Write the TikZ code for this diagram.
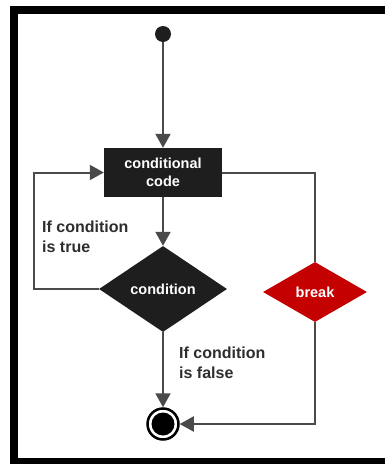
\documentclass[tikz,border=0pt]{standalone}
\usepackage{fontspec}
\setmainfont{Liberation Sans}
\usetikzlibrary{shapes.geometric,arrows.meta}
\definecolor{boxfill}{HTML}{1E1E1E}
\definecolor{wire}{HTML}{4A4A4A}
\definecolor{labeltext}{HTML}{2E2E2E}
\definecolor{breakred}{HTML}{C40000}
\begin{document}
\begin{tikzpicture}[x=1pt,y=-1pt,
  boxtext/.style={text=white,font=\fontsize{14.5}{18.5}\selectfont\bfseries,align=center},
  codebox/.style={boxtext,fill=boxfill,inner sep=0pt,minimum width=118pt,minimum height=49pt},
  decision/.style={boxtext,diamond,inner sep=0pt},
  flow/.style={draw=wire,line width=2pt},
  tip/.style={-{Triangle[width=15pt,length=14pt]}},
  note/.style={text=labeltext,font=\fontsize{16}{20}\selectfont\bfseries,align=left,anchor=west,inner sep=0pt}]
  \useasboundingbox (0,0) rectangle (385,464);
  % outer frame: top, left and bottom bands, open to the right
  \fill[white] (0,0) rectangle (385,464);
  \fill[black] (10,6) rectangle (385,14);
  \fill[black] (10,6) rectangle (18,464);
  \fill[black] (10,458) rectangle (385,464);
  % nodes
  \node[circle,fill=boxfill,minimum size=16pt,inner sep=0pt] (start) at (163,34) {};
  \node[codebox] (code) at (163,172.5) {conditional\\code};
  \node[decision,fill=boxfill,minimum width=128pt,minimum height=86pt] (cond) at (163,289) {condition};
  \node[decision,fill=breakred,minimum width=104pt,minimum height=60pt] (brk) at (315,292) {break};
  \node[circle,draw=black,line width=2.5pt,fill=white,minimum size=31pt,inner sep=0pt] (end) at (163,424) {};
  \node[circle,fill=black,minimum size=23pt,inner sep=0pt] (endcore) at (end.center) {};
  % connectors
  \draw[flow,tip] (start) -- (code.north);
  \draw[flow,tip] (code.south) -- (cond.north);
  \coordinate (loopcorner) at (34,289);
  \draw[flow,tip] (cond.west) -- (loopcorner) |- (code.west);
  \draw[flow] (code.east) -| (brk.north);
  \draw[flow,tip] (cond.south) -- (end.north);
  \draw[flow,tip] (brk.south) |- (end.east);
  % labels
  \node[note] (truelbl) at (42,237) {If condition\\is true};
  \node[note] (falselbl) at (179,363) {If condition\\is false};
\end{tikzpicture}
\end{document}
